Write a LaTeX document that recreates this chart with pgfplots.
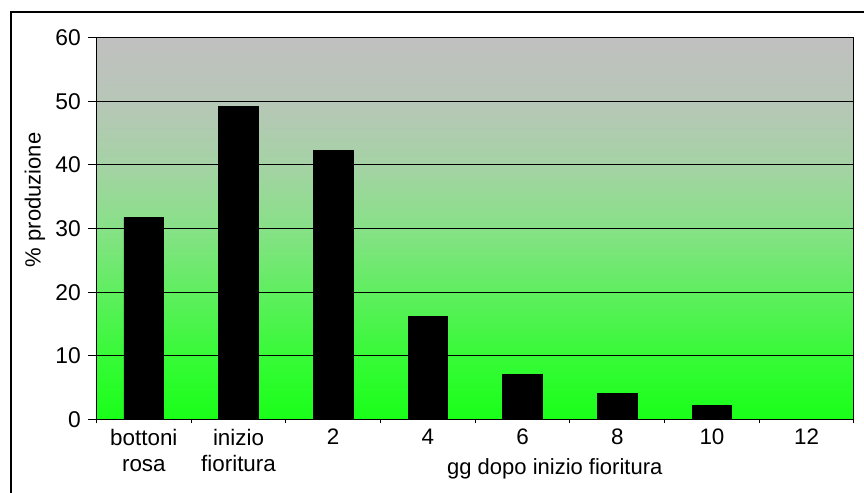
\documentclass[border=0pt]{standalone}
\usepackage{fontspec}
\setmainfont{Liberation Sans}
\usepackage{pgfplots}
\pgfplotsset{compat=1.18}
\definecolor{g0}{RGB}{25,255,25}
\definecolor{g1}{RGB}{55,250,55}
\definecolor{g2}{RGB}{95,238,95}
\definecolor{g3}{RGB}{135,225,135}
\definecolor{g4}{RGB}{165,210,165}
\definecolor{g5}{RGB}{183,198,183}
\definecolor{g6}{RGB}{192,192,192}
\pgfdeclareverticalshading{bgshade}{100bp}{%
  color(0bp)=(g0);
  color(25bp)=(g0);
  color(33.33bp)=(g1);
  color(41.67bp)=(g2);
  color(50bp)=(g3);
  color(58.33bp)=(g4);
  color(66.67bp)=(g5);
  color(75bp)=(g6);
  color(100bp)=(g6)}
\begin{document}
\fontsize{11}{13.2}\selectfont
\begin{tikzpicture}[x=1pt,y=1pt]
\useasboundingbox (0,0) rectangle (432,246.5);
\begin{scope}
\clip (0,0) rectangle (432,246.5);
\draw[line width=0.75pt] (5.5,-10) rectangle (445,240.5);
\end{scope}
\begin{axis}[
  at={(48.25pt,36.75pt)}, anchor=south west,
  scale only axis, width=378.75pt, height=191pt,
  /pgf/number format/assume math mode=true,
  ymin=0, ymax=60, ytick={0,10,...,60},
  xmin=-0.5, xmax=7.5,
  xtick={-0.5,0.5,...,7.5},
  x tick label as interval,
  xticklabels={{bottoni\\rosa},{inizio\\fioritura},2,4,6,8,10,12},
  xticklabel style={align=center, font=\fontsize{11.2}{13}\selectfont, yshift=3pt},
  yticklabel style={font=\fontsize{11.4}{13}\selectfont},
  tick align=outside,
  xtick pos=bottom, ytick pos=left,
  major tick length=4pt,
  x tick style={/pgfplots/major tick length=2pt, black, line width=0.5pt},
  y tick style={black, line width=0.5pt},
  axis line style={black, line width=0.5pt},
  ymajorgrids, grid style={black, line width=0.5pt},
  axis background/.style={shading=bgshade},
  ylabel={\% produzione},
  ylabel style={at={(axis description cs:0,0.575)}, anchor=center, yshift=30.75pt, font=\fontsize{11}{13}\selectfont},
  xlabel={gg dopo inizio fioritura},
  xlabel style={at={(axis description cs:0.605,0)}, anchor=base, yshift=-27.75pt, font=\fontsize{11}{13}\selectfont},
  ybar, bar width=0.42,
]
\addplot[fill=black, draw=black] coordinates {(0,31.7) (1,49.2) (2,42.2) (3,16.2) (4,7.1) (5,4.05) (6,2.2) (7,0)};
\end{axis}
\end{tikzpicture}
\end{document}
